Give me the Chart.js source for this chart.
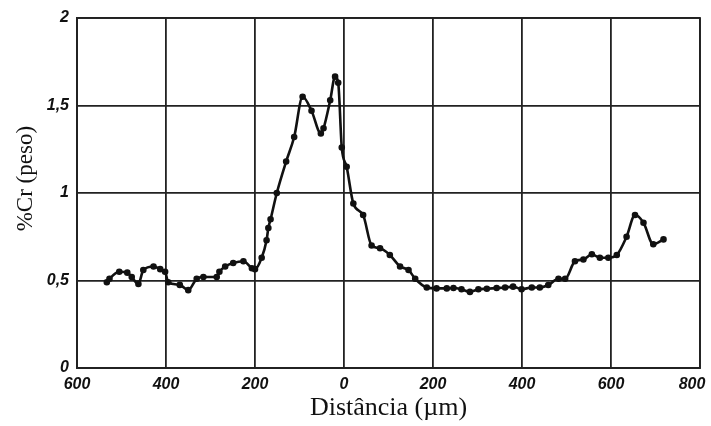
<!DOCTYPE html>
<html lang="pt">
<head>
<meta charset="UTF-8">
<title>%Cr x Distância</title>
<script src="https://cdn.jsdelivr.net/npm/chart.js@4/dist/chart.umd.min.js"></script>
<style>
  html, body { margin: 0; padding: 0; background: #fff; }
  #wrap { width: 711px; height: 426px; }
</style>
</head>
<body>
<div id="wrap"><canvas id="crChart" width="711" height="426"></canvas></div>
<script>
// Distance (um), negative = left of the interface; labels are shown as absolute values
const distance = [
  -533, -527, -505, -487, -477, -462, -451, -428, -413, -402,
  -395, -369, -350, -331, -316, -286, -280, -267, -249, -226,
  -207, -200, -185, -174, -170, -165, -151, -130, -112, -93,
  -73, -52, -46, -31, -20, -13, -5, 6, 21, 43,
  62, 81, 103, 126, 145, 160, 186, 208, 231, 246,
  264, 283, 302, 321, 343, 362, 380, 399, 422, 440,
  459, 482, 497, 519, 538, 557, 575, 594, 613, 635,
  654, 673, 695, 718
];
// %Cr (weight)
const crPct = [
  0.49, 0.51, 0.55, 0.545, 0.52, 0.48, 0.56, 0.58, 0.565, 0.55,
  0.49, 0.475, 0.445, 0.51, 0.52, 0.52, 0.55, 0.58, 0.60, 0.61,
  0.57, 0.565, 0.63, 0.73, 0.80, 0.85, 1.0, 1.18, 1.32, 1.55,
  1.47, 1.34, 1.37, 1.53, 1.665, 1.63, 1.26, 1.15, 0.94, 0.874,
  0.70, 0.684, 0.646, 0.58, 0.56, 0.51, 0.46, 0.455, 0.455, 0.457,
  0.45, 0.435, 0.45, 0.453, 0.457, 0.46, 0.465, 0.45, 0.46, 0.46,
  0.474, 0.51, 0.51, 0.61, 0.62, 0.65, 0.63, 0.63, 0.646, 0.75,
  0.874, 0.83, 0.707, 0.735
];
const xTicks = [-600, -400, -200, 0, 200, 400, 600, 800];
const yTicks = [0, 0.5, 1, 1.5, 2];

const tickFont = { family: "'Liberation Sans', Arial, sans-serif", size: 16, style: 'italic', weight: 'bold' };

const points = distance.map((d, i) => ({ x: d, y: crPct[i] }));

new Chart(document.getElementById('crChart'), {
  type: 'scatter',
  data: {
    datasets: [{
      data: points,
      showLine: true,
      borderColor: '#111',
      borderWidth: 2.6,
      backgroundColor: '#111',
      pointRadius: 2,
      pointHoverRadius: 2,
      cubicInterpolationMode: 'monotone'
    }]
  },
  options: {
    responsive: false,
    animation: false,
    layout: { padding: { left: 0, right: 11, top: 18, bottom: 0 } },
    plugins: { legend: { display: false }, tooltip: { enabled: false } },
    scales: {
      x: {
        type: 'linear',
        min: -600,
        max: 800,
        afterBuildTicks: scale => { scale.ticks = xTicks.map(v => ({ value: v })); },
        afterFit: scale => { scale.height = 58; scale.paddingRight = 0; scale.paddingLeft = 0; },
        grid: { color: '#222', lineWidth: 1.8, drawTicks: false },
        border: { color: '#222', width: 1.8 },
        ticks: {
          color: '#111',
          font: tickFont,
          padding: 7,
          // last label sits a little inside the frame, as in the original
          callback: v => v === 800 ? '800\u2003' : String(Math.abs(v))
        },
        title: {
          display: true,
          text: 'Distância (µm)',
          color: '#111',
          font: { family: "'Liberation Serif', 'Times New Roman', serif", size: 26 },
          padding: { top: 0, bottom: 2 }
        }
      },
      y: {
        min: 0,
        max: 2,
        afterBuildTicks: scale => { scale.ticks = yTicks.map(v => ({ value: v })); },
        afterFit: scale => { scale.width = 77; },
        grid: { color: '#222', lineWidth: 1.8, drawTicks: false },
        border: { color: '#222', width: 1.8 },
        ticks: {
          color: '#111',
          font: tickFont,
          padding: 8,
          callback: v => String(v).replace('.', ',')
        },
        title: {
          display: true,
          // leading space nudges the rotated title up a bit
          text: '\u2003 %Cr (peso)',
          color: '#111',
          font: { family: "'Liberation Serif', 'Times New Roman', serif", size: 23 },
          padding: { top: 12, bottom: 0 }
        }
      }
    }
  },
  plugins: [{
    id: 'frame',
    afterDraw(chart) {
      const { ctx, chartArea: a } = chart;
      ctx.save();
      ctx.strokeStyle = '#222';
      ctx.lineWidth = 1.8;
      ctx.strokeRect(a.left, a.top, a.right - a.left, a.bottom - a.top);
      ctx.restore();
    }
  }]
});
</script>
</body>
</html>
